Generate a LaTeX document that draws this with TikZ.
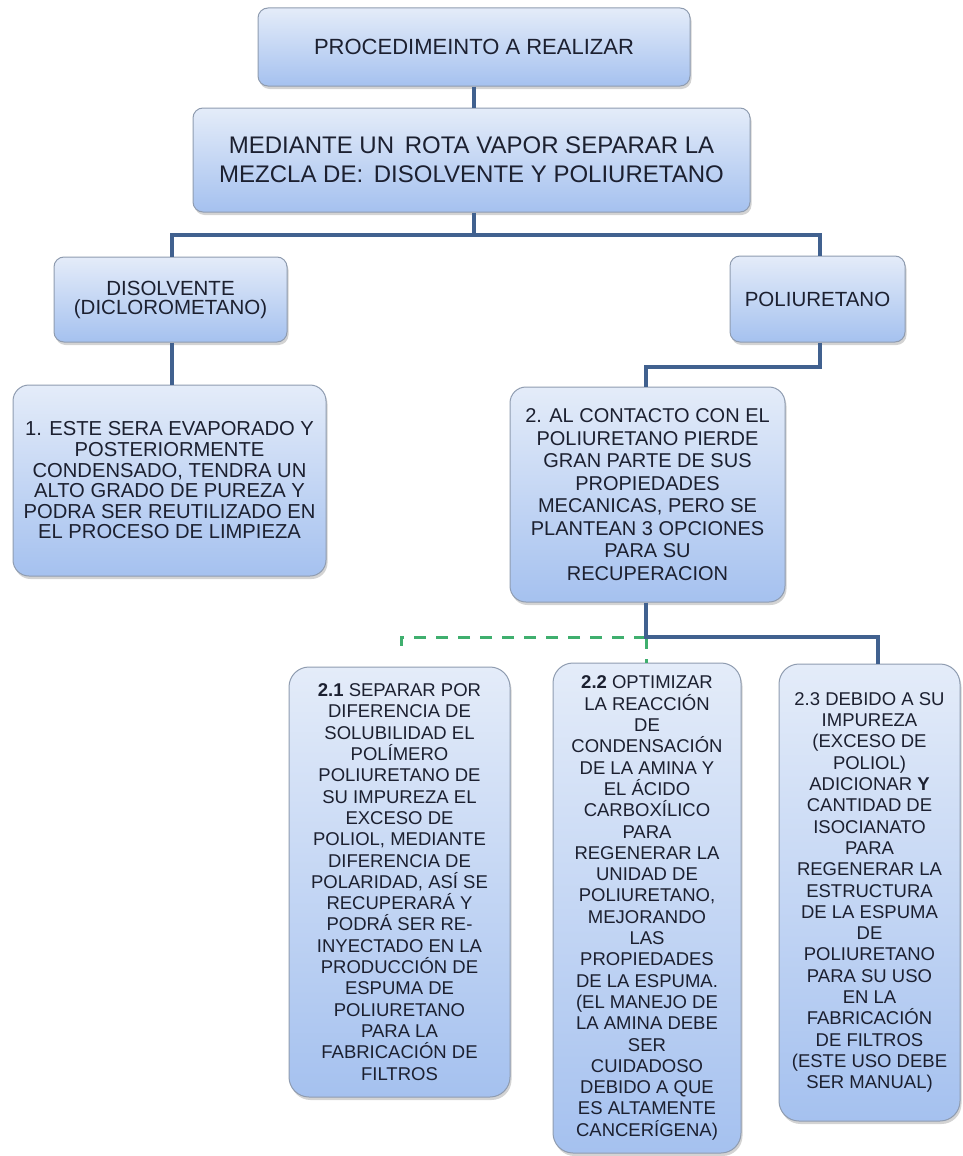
\documentclass[tikz,border=0pt]{standalone}
\usepackage{fontspec}
\setmainfont{Liberation Sans}
\usetikzlibrary{shadows}
\definecolor{PBLine}{HTML}{41618F}
\definecolor{PBDash}{HTML}{3FAF6E}
\definecolor{PBTop}{HTML}{E4ECF9}
\definecolor{PBBot}{HTML}{A5C1EF}
\definecolor{PBEdge}{HTML}{8F9CB0}
\definecolor{PBText}{HTML}{1C2030}

\begin{document}
\begin{tikzpicture}[x=1pt,y=-1pt,
 box/.style={draw=PBEdge,line width=1pt,top color=PBTop,bottom color=PBBot,rounded corners=10pt,align=center,inner sep=0pt,text=PBText,drop shadow={opacity=.35,shadow xshift=1.5pt,shadow yshift=-3pt}},
 optbox/.style={box,rounded corners=20pt,font=\fontsize{18.5}{21.3}\selectfont},
 conn/.style={draw=PBLine,line width=3.5pt},
 alt/.style={draw=PBDash,line width=3pt,dash pattern=on 12pt off 10pt}]
\useasboundingbox (0,0) rectangle (963,1156);
% upper part
\node[box,minimum width=432pt,minimum height=78pt,font=\fontsize{22}{26}\selectfont] (top) at (474,47) {PROCEDIMEINTO A REALIZAR};
\node[box,minimum width=557pt,minimum height=104pt,font=\fontsize{24}{29}\selectfont] (mezcla) at (471.5,160) {MEDIANTE UN\, ROTA VAPOR SEPARAR LA\\MEZCLA DE:\, DISOLVENTE Y POLIURETANO};
\node[box,minimum width=233pt,minimum height=85pt,font=\fontsize{20.5}{19}\selectfont] (disolv) at (170.5,299.5) {DISOLVENTE\\(DICLOROMETANO)};
\node[box,minimum width=175pt,minimum height=86pt,font=\fontsize{20.5}{19}\selectfont] (poli) at (817.5,299) {POLIURETANO};
\node[box,rounded corners=16pt,minimum width=313pt,minimum height=191pt,font=\fontsize{20.2}{20.6}\selectfont] (limpia) at (169.5,480.5) {1. ESTE SERA EVAPORADO Y\\POSTERIORMENTE\\CONDENSADO, TENDRA UN\\ALTO GRADO DE PUREZA Y\\PODRA SER REUTILIZADO EN\\EL PROCESO DE LIMPIEZA};
\node[box,rounded corners=16pt,minimum width=275pt,minimum height=215pt,font=\fontsize{20}{22.5}\selectfont] (recup) at (647.5,494.5) {2. AL CONTACTO CON EL\\POLIURETANO PIERDE\\GRAN PARTE DE SUS\\PROPIEDADES\\MECANICAS, PERO SE\\PLANTEAN 3 OPCIONES\\PARA SU\\RECUPERACION};
% three options
\node[optbox,minimum width=221pt,minimum height=430pt] (opc1) at (399.5,882) {\textbf{2.1} SEPARAR POR\\DIFERENCIA DE\\SOLUBILIDAD EL\\POLÍMERO\\POLIURETANO DE\\SU IMPUREZA EL\\EXCESO DE\\POLIOL, MEDIANTE\\DIFERENCIA DE\\POLARIDAD, ASÍ SE\\RECUPERARÁ Y\\PODRÁ SER RE-\\INYECTADO EN LA\\PRODUCCIÓN DE\\ESPUMA DE\\POLIURETANO\\PARA LA\\FABRICACIÓN DE\\FILTROS};
\node[optbox,minimum width=188pt,minimum height=490pt] (opc2) at (647,908) {\textbf{2.2} OPTIMIZAR\\LA REACCIÓN\\DE\\CONDENSACIÓN\\DE LA AMINA Y\\EL ÁCIDO\\CARBOXÍLICO\\PARA\\REGENERAR LA\\UNIDAD DE\\POLIURETANO,\\MEJORANDO\\LAS\\PROPIEDADES\\DE LA ESPUMA.\\(EL MANEJO DE\\LA AMINA DEBE\\SER\\CUIDADOSO\\DEBIDO A QUE\\ES ALTAMENTE\\CANCERÍGENA)};
\node[optbox,minimum width=181pt,minimum height=457pt] (opc3) at (869.5,892.5) {2.3 DEBIDO A SU\\IMPUREZA\\(EXCESO DE\\POLIOL)\\ADICIONAR \textbf{Y}\\CANTIDAD DE\\ISOCIANATO\\PARA\\REGENERAR LA\\ESTRUCTURA\\DE LA ESPUMA\\DE\\POLIURETANO\\PARA SU USO\\EN LA\\FABRICACIÓN\\DE FILTROS\\(ESTE USO DEBE\\SER MANUAL)};
% connectors
\draw[conn] (top.south -| 474,0) -- (mezcla.north -| 474,0);
\draw[conn] (mezcla.south -| 474,0) -- (474,235) coordinate (split);
\draw[conn] (disolv.north -| 172,0) |- (split) -| (poli.north -| 820,0);
\draw[conn] (disolv.south -| 172,0) -- (limpia.north -| 172,0);
\draw[conn] (poli.south -| 820,0) -- (820,367) -| (recup.north -| 646,0);
\draw[alt] (646,637) coordinate (fork) -| ([yshift=14pt]opc1.north -| 401,0);
\draw[alt] (fork) -- (opc2.north -| 646,0);
\draw[conn,line width=4.5pt] (recup.south -| 646,0) -- (fork) -| (opc3.north -| 878,0);
\end{tikzpicture}
\end{document}
